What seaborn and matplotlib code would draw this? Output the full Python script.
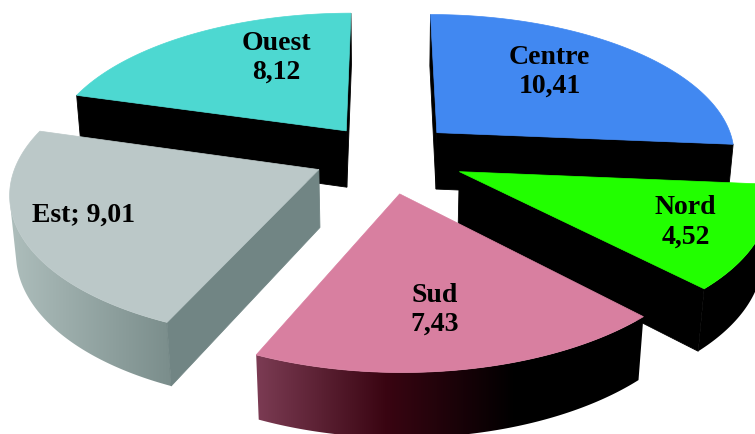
import numpy as np
import matplotlib
matplotlib.use("Agg")
import matplotlib.pyplot as plt
from matplotlib.patches import Polygon
from matplotlib.colors import LinearSegmentedColormap
import seaborn as sns

# data
regions = ["Centre", "Nord", "Sud", "Est", "Ouest"]
values = [10.41, 4.52, 7.43, 9.01, 8.12]

# styles
top_colors = ["#4188f1", "#22ff00", "#d87fa0", "#bbc8c8", "#4dd8d1"]
# outer wall gradients, left -> right on screen
wall_colors = [["#000000", "#000000"],
               ["#000000", "#000000"],
               ["#7c3c54", "#3a0512", "#000000", "#000000"],
               ["#aebebc", "#7a8d8b"],
               ["#000000", "#000000"]]
side_colors = ["#000000", "#000000", "#000000", "#718584", "#000000"]
explode = [0.24, 0.27, 0.27, 0.24, 0.22]
label_r = [0.64, 0.77, 0.69, 0.79, 0.65]
label_frac = [0.435, 0.5, 0.53, 0.53, 0.67]
one_line = [False, False, False, True, False]

sns.set_theme(style="white")
plt.rcParams["font.family"] = ["Liberation Serif", "DejaVu Serif"]

# view parameters (pixel space)
cx, cy = 385, 155
focal = 1860
dist = 6.2
elev = np.radians(28)
height = 0.22
cam = np.array([0.0, -dist * np.cos(elev), dist * np.sin(elev)])


def project(u, w, z):
    depth = dist + w * np.cos(elev) - z * np.sin(elev)
    return cx + focal * u / depth, cy - focal * (w * np.sin(elev) + z * np.cos(elev)) / depth


def visible(normal, point):
    return np.dot(normal, cam - point) > 0


fig = plt.figure(figsize=(7.55, 4.34), dpi=100)
ax = fig.add_axes([0, 0, 1, 1])
ax.set_xlim(0, 755)
ax.set_ylim(434, 0)
ax.set_axis_off()

total = sum(values)
bounds = np.concatenate([[0], np.cumsum(values)]) / total * 2 * np.pi

order = sorted(range(len(values)),
               key=lambda i: -explode[i] * np.cos((bounds[i] + bounds[i + 1]) / 2))

zo = 1
for i in order:
    a0, a1 = bounds[i], bounds[i + 1]
    mid = (a0 + a1) / 2
    ou, ow = explode[i] * np.sin(mid), explode[i] * np.cos(mid)
    ts = np.linspace(a0, a1, 200)

    def rim(t, z):
        return ou + np.sin(t), ow + np.cos(t), z

    # outer wall: visible part of the arc, filled with a screen gradient
    vis = [t for t in ts
           if visible(np.array([np.sin(t), np.cos(t), 0]), np.array(rim(t, -height / 2)))]
    if len(vis) > 1:
        pts = [project(*rim(t, 0)) for t in vis] + \
              [project(*rim(t, -height)) for t in vis[::-1]]
        wall = Polygon(pts, closed=True, facecolor="none", edgecolor="none", zorder=zo)
        ax.add_patch(wall)
        xs = [p[0] for p in pts]
        ys = [p[1] for p in pts]
        cmap = LinearSegmentedColormap.from_list("w%d" % i, wall_colors[i])
        grad = np.linspace(0, 1, 256)[None, :]
        im = ax.imshow(grad, cmap=cmap, aspect="auto", zorder=zo,
                       extent=(min(xs) - 1, max(xs) + 1, max(ys) + 1, min(ys) - 1),
                       interpolation="bilinear")
        im.set_clip_path(wall)
    zo += 1

    # radial faces
    for a, n in [(a0, np.array([-np.cos(a0), np.sin(a0), 0])),
                 (a1, np.array([np.cos(a1), -np.sin(a1), 0]))]:
        p = np.array([ou + 0.5 * np.sin(a), ow + 0.5 * np.cos(a), -height / 2])
        if not visible(n, p):
            continue
        quad = [project(ou, ow, 0), project(*rim(a, 0)),
                project(*rim(a, -height)), project(ou, ow, -height)]
        ax.add_patch(Polygon(quad, closed=True, facecolor=side_colors[i],
                             edgecolor=side_colors[i], lw=0.6, zorder=zo))
    zo += 1

    # top face
    top = [project(ou, ow, 0)] + [project(*rim(t, 0)) for t in ts]
    ax.add_patch(Polygon(top, closed=True, facecolor=top_colors[i],
                         edgecolor=top_colors[i], lw=0.5, zorder=zo))
    zo += 1

    # label
    la = a0 + label_frac[i] * (a1 - a0)
    lx, ly = project(ou + label_r[i] * np.sin(la), ow + label_r[i] * np.cos(la), 0)
    val = f"{values[i]:.2f}".replace(".", ",")
    txt = f"{regions[i]}; {val}" if one_line[i] else f"{regions[i]}\n{val}"
    ax.text(lx, ly, txt, ha="center", va="center", fontsize=20,
            fontweight="bold", color="black", linespacing=1.2, zorder=100)

ax.set_xlim(0, 755)
ax.set_ylim(434, 0)
fig.savefig("out.png", dpi=100, facecolor="white")
